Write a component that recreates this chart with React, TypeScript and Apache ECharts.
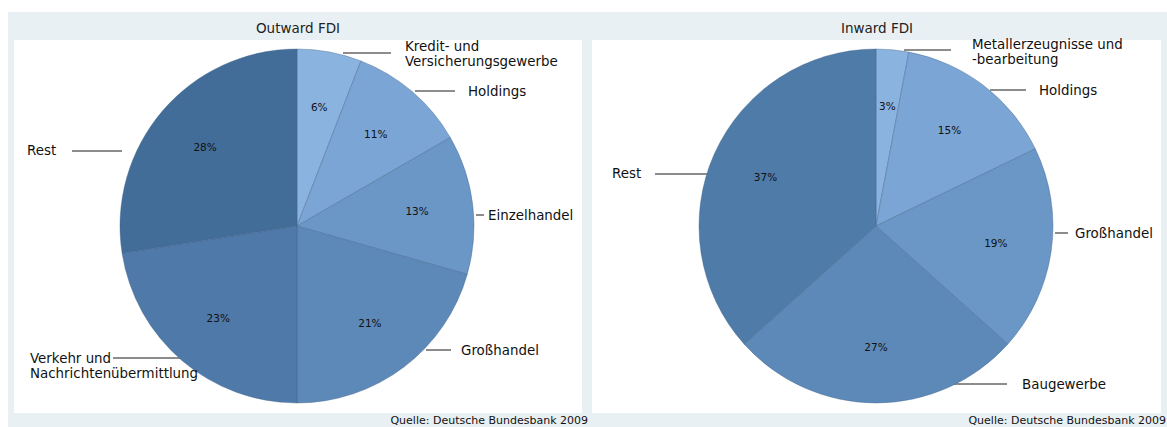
import React, { useEffect, useRef } from "react";
import * as echarts from "echarts";

// ---------- data ----------
const panelTitles = ["Outward FDI", "Inward FDI"];
const sourceNote = "Quelle: Deutsche Bundesbank 2009";

const outwardCategories = [
  "Kredit- und\nVersicherungsgewerbe",
  "Holdings",
  "Einzelhandel",
  "Großhandel",
  "Verkehr und\nNachrichtenübermittlung",
  "Rest",
];
const outwardShares = [6, 11, 13, 21, 23, 28];

const inwardCategories = [
  "Metallerzeugnisse und\n-bearbeitung",
  "Holdings",
  "Großhandel",
  "Baugewerbe",
  "Rest",
];
const inwardShares = [3, 15, 19, 27, 37];

// ---------- styles / layout ----------
const outwardColors = ["#8ab3e0", "#7aa5d4", "#6a97c6", "#5d89b9", "#4f79a8", "#436d99"];
const inwardColors = ["#8ab3e0", "#7aa5d4", "#6a97c6", "#5d89b9", "#4f7ba8"];

const FONT = "DejaVu Sans";

// label placement: text x, text y, vertical align, leader line x1, x2, y
type LabelPos = { tx: number; ty: number; va: string; x1: number; x2: number; ly: number };
const outwardLabelPos: LabelPos[] = [
  { tx: 405, ty: 54, va: "middle", x1: 343, x2: 391, ly: 53 },
  { tx: 468, ty: 91, va: "middle", x1: 415, x2: 455, ly: 91 },
  { tx: 488, ty: 215, va: "middle", x1: 476, x2: 484, ly: 215 },
  { tx: 461, ty: 350, va: "middle", x1: 426, x2: 451, ly: 350 },
  { tx: 30, ty: 351, va: "top", x1: 180, x2: 113, ly: 358 },
  { tx: 27, ty: 150, va: "middle", x1: 122, x2: 72, ly: 151 },
];
const inwardLabelPos: LabelPos[] = [
  { tx: 972, ty: 52, va: "middle", x1: 904, x2: 951, ly: 50 },
  { tx: 1039, ty: 90, va: "middle", x1: 990, x2: 1026, ly: 90 },
  { tx: 1075, ty: 233, va: "middle", x1: 1055, x2: 1068, ly: 233 },
  { tx: 1022, ty: 384, va: "middle", x1: 954, x2: 1007, ly: 384 },
  { tx: 612, ty: 173, va: "middle", x1: 708, x2: 655, ly: 174 },
];

function pieSeries(
  cats: string[],
  vals: number[],
  colors: string[],
  center: [number, number],
  pos: LabelPos[]
) {
  const data = vals.map((v, i) => ({ name: cats[i], value: v, itemStyle: { color: colors[i] } }));
  return [
    {
      type: "pie",
      center,
      radius: 177,
      startAngle: 90,
      clockwise: true,
      avoidLabelOverlap: false,
      silent: true,
      emphasis: { disabled: true },
      itemStyle: { borderColor: "rgba(60,95,135,0.55)", borderWidth: 0.7 },
      label: {
        show: true,
        position: "outside",
        alignTo: "none",
        formatter: "{b}",
        color: "#111",
        fontFamily: FONT,
        fontSize: 13.4,
        lineHeight: 15,
      },
      labelLine: { show: true, length: 0, length2: 0, lineStyle: { color: "#1a1a1a", width: 1 } },
      labelLayout: (p: any) => {
        const L = pos[p.dataIndex];
        return {
          x: L.tx,
          y: L.ty,
          align: "left",
          verticalAlign: L.va,
          labelLinePoints: [
            [L.x1, L.ly],
            [L.x2, L.ly],
            [L.x2, L.ly],
          ],
        };
      },
      data,
    },
    {
      type: "pie",
      center,
      radius: [59, 177],
      startAngle: 90,
      clockwise: true,
      silent: true,
      z: 3,
      emphasis: { disabled: true },
      itemStyle: { color: "rgba(0,0,0,0)", borderWidth: 0 },
      label: {
        show: true,
        position: "inside",
        formatter: "{c}%",
        color: "#111",
        fontFamily: FONT,
        fontSize: 10.5,
      },
      labelLine: { show: false },
      data: vals.map((v, i) => ({ name: cats[i], value: v })),
    },
  ];
}

export default function App() {
  const ref = useRef<HTMLDivElement>(null);
  useEffect(() => {
    if (!ref.current) return;
    const chart = echarts.init(ref.current, undefined, { renderer: "svg" });
    chart.setOption({
      animation: false,
      backgroundColor: "#ffffff",
      graphic: [
        { type: "rect", z: 0, shape: { x: 8, y: 12, width: 1159, height: 415 }, style: { fill: "#e9f0f3" } },
        { type: "rect", z: 0, shape: { x: 14, y: 40, width: 568, height: 373 }, style: { fill: "#ffffff" } },
        { type: "rect", z: 0, shape: { x: 592, y: 40, width: 569, height: 373 }, style: { fill: "#ffffff" } },
        {
          type: "text", z: 5, x: 298, y: 28,
          style: { text: panelTitles[0], fill: "#222", fontSize: 13.5, fontFamily: FONT, align: "center", verticalAlign: "middle" },
        },
        {
          type: "text", z: 5, x: 877, y: 28,
          style: { text: panelTitles[1], fill: "#222", fontSize: 13.5, fontFamily: FONT, align: "center", verticalAlign: "middle" },
        },
        {
          type: "text", z: 5, x: 588, y: 420,
          style: { text: sourceNote, fill: "#111", fontSize: 11, fontFamily: FONT, align: "right", verticalAlign: "middle" },
        },
        {
          type: "text", z: 5, x: 1166, y: 420,
          style: { text: sourceNote, fill: "#111", fontSize: 11, fontFamily: FONT, align: "right", verticalAlign: "middle" },
        },
      ],
      series: [
        ...pieSeries(outwardCategories, outwardShares, outwardColors, [297, 226], outwardLabelPos),
        ...pieSeries(inwardCategories, inwardShares, inwardColors, [876, 226], inwardLabelPos),
      ],
    });
    return () => chart.dispose();
  }, []);
  return (
    <div
      ref={ref}
      style={{ position: "absolute", left: 0, top: 0, width: 1167, height: 427 }}
    />
  );
}
